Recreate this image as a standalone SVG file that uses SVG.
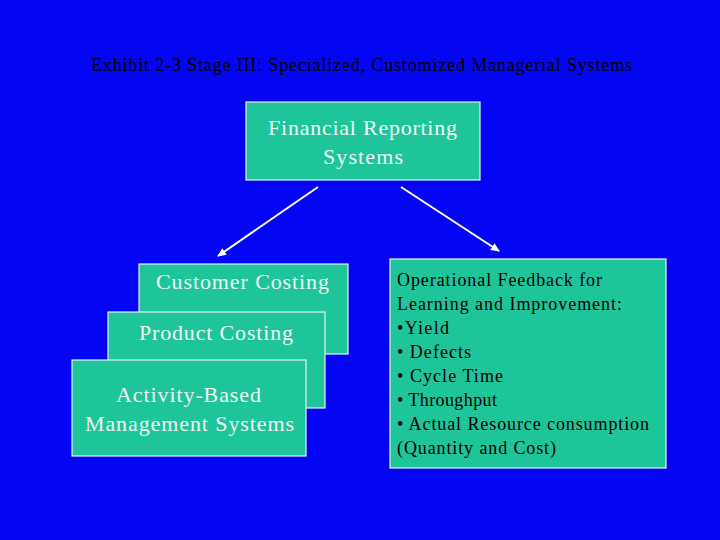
<svg xmlns="http://www.w3.org/2000/svg" width="720" height="540" viewBox="0 0 720 540">
<defs>
<style>
.box{fill:#1fc59a;stroke:#e6f2ee;stroke-width:1.2}
.t{font-family:"Liberation Serif",serif;font-size:22px;fill:#eef6f4}
.k{font-family:"Liberation Serif",serif;font-size:18px;fill:#000}
.c{stroke:#fff;stroke-width:2;fill:none;marker-end:url(#a)}
</style>
<marker id="a" markerWidth="10" markerHeight="10" refX="8" refY="5" orient="auto" markerUnits="userSpaceOnUse"><path d="M0,1 L9,5 L0,9 Z" fill="#fff"/></marker>
</defs>
<rect width="720" height="540" fill="#0505f5"/>
<text x="91" y="71" textLength="541" lengthAdjust="spacing" style="font-family:'Liberation Serif',serif;font-size:18px;fill:#000">Exhibit 2-3 Stage III: Specialized, Customized Managerial Systems</text>
<g id="connectors">
<line class="c" x1="318" y1="187" x2="218" y2="256"/>
<line class="c" x1="401" y1="187" x2="499" y2="251"/>
</g>
<g id="financial"><rect class="box" x="246" y="102" width="234" height="78"/><text class="t" x="268" y="135" textLength="189" lengthAdjust="spacing">Financial Reporting</text><text class="t" x="323" y="164" textLength="80" lengthAdjust="spacing">Systems</text></g>
<g id="customer"><rect class="box" x="139" y="264" width="209" height="90"/><text class="t" x="156" y="289" textLength="173" lengthAdjust="spacing">Customer Costing</text></g>
<g id="product"><rect class="box" x="108" y="312" width="217" height="96"/><text class="t" x="139" y="340" textLength="154" lengthAdjust="spacing">Product Costing</text></g>
<g id="activity"><rect class="box" x="72" y="360" width="234" height="96"/><text class="t" x="116" y="402" textLength="145" lengthAdjust="spacing">Activity-Based</text><text class="t" x="85" y="431" textLength="209" lengthAdjust="spacing">Management Systems</text></g>
<g id="operational"><rect class="box" x="390" y="259" width="276" height="209"/>
<text class="k" x="397" y="286" textLength="205" lengthAdjust="spacing">Operational Feedback for</text>
<text class="k" x="397" y="310" textLength="225" lengthAdjust="spacing">Learning and Improvement:</text>
<text class="k" x="397" y="334" textLength="52" lengthAdjust="spacing">•Yield</text>
<text class="k" x="397" y="358" textLength="74" lengthAdjust="spacing">• Defects</text>
<text class="k" x="397" y="382" textLength="106" lengthAdjust="spacing">• Cycle Time</text>
<text class="k" x="397" y="406" textLength="100" lengthAdjust="spacing">• Throughput</text>
<text class="k" x="397" y="430" textLength="252" lengthAdjust="spacing">• Actual Resource consumption</text>
<text class="k" x="397" y="454" textLength="159" lengthAdjust="spacing">(Quantity and Cost)</text>
</g>
</svg>
